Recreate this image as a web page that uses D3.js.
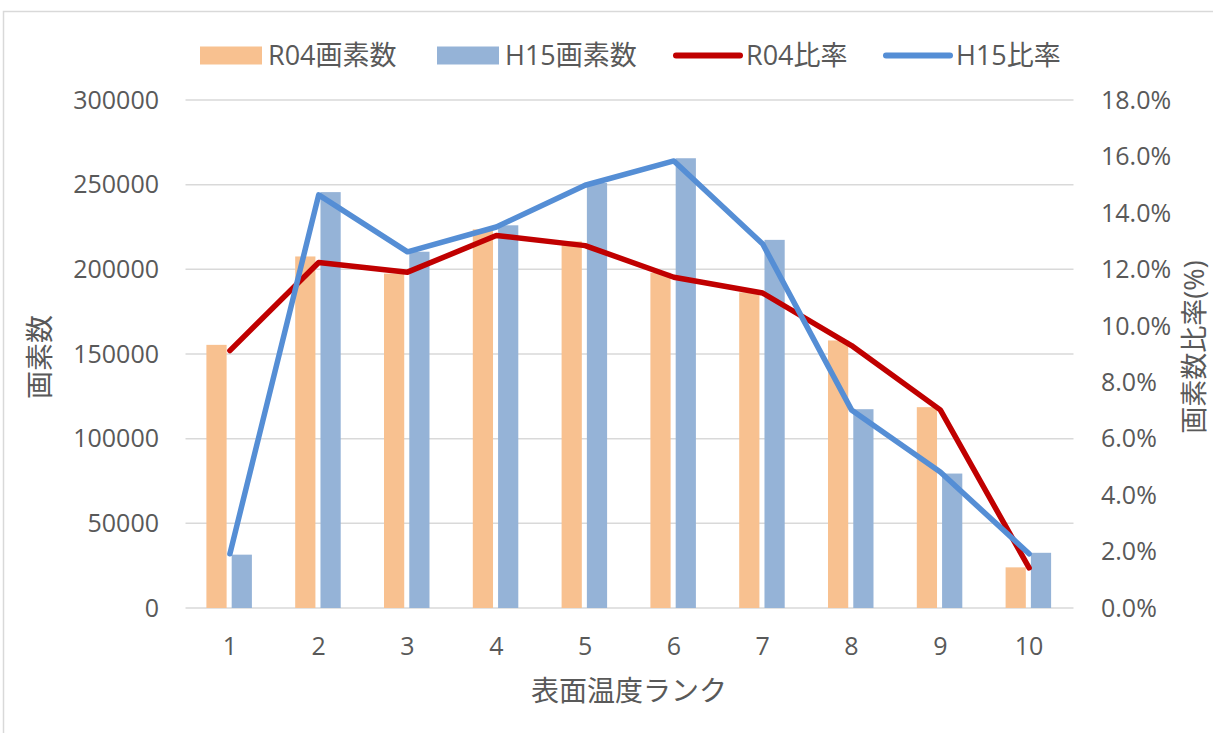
<!DOCTYPE html>
<html>
<head>
<meta charset="utf-8">
<script src="https://cdn.jsdelivr.net/npm/d3@7"></script>
<style>
  html, body { margin: 0; padding: 0; background: #ffffff; }
  svg { display: block; }
  text { font-family: "Open Sans", "Noto Sans CJK JP", sans-serif; fill: #595959; }
</style>
</head>
<body>
<svg id="chart" width="1213" height="733"></svg>
<script>
// Surface temperature rank categories
const categories = ["1", "2", "3", "4", "5", "6", "7", "8", "9", "10"];

// Pixel counts per rank
const r04Pixels = [155400, 207600, 197500, 223600, 216500, 198000, 186400, 158000, 118600, 24000];
const h15Pixels = [31500, 245600, 210400, 226000, 251000, 265600, 217400, 117400, 79400, 32600];

// Share of pixels per rank
const r04Ratio = [0.0912, 0.1224, 0.1190, 0.1320, 0.1284, 0.1172, 0.1116, 0.0930, 0.0702, 0.0142];
const h15Ratio = [0.0192, 0.1464, 0.1262, 0.1350, 0.1498, 0.1584, 0.1290, 0.0702, 0.0482, 0.0192];

// Axis ticks
const leftTicks = [0, 50000, 100000, 150000, 200000, 250000, 300000];
const rightTicks = [0, 0.02, 0.04, 0.06, 0.08, 0.10, 0.12, 0.14, 0.16, 0.18];

const barSeries = [
  { name: "R04画素数", values: r04Pixels, color: "#F8C190" },
  { name: "H15画素数", values: h15Pixels, color: "#95B3D7" }
];
const lineSeries = [
  { name: "R04比率", values: r04Ratio, color: "#C00000" },
  { name: "H15比率", values: h15Ratio, color: "#558ED5" }
];

const svg = d3.select("#chart");

// Chart area frame
svg.append("rect")
  .attr("x", 3.5).attr("y", 11.5)
  .attr("width", 1230).attr("height", 740)
  .attr("fill", "none").attr("stroke", "#D9D9D9").attr("stroke-width", 1.5);

const plot = { left: 185.5, right: 1073.5, top: 100, bottom: 608 };

const x = d3.scaleBand().domain(categories).range([plot.left, plot.right]);
const xSub = d3.scaleBand().domain(barSeries.map(s => s.name))
  .range([-23.5, 22]).paddingInner(0.2);
const y = d3.scaleLinear().domain([0, 300000]).range([plot.bottom, plot.top]);
const y2 = d3.scaleLinear().domain([0, 0.18]).range([plot.bottom, plot.top]);

// Horizontal gridlines
svg.append("g")
  .selectAll("line")
  .data(leftTicks)
  .join("line")
  .attr("x1", plot.left).attr("x2", plot.right)
  .attr("y1", d => y(d)).attr("y2", d => y(d))
  .attr("stroke", "#D9D9D9").attr("stroke-width", 1.5);

// Left axis labels
svg.append("g")
  .selectAll("text")
  .data(leftTicks)
  .join("text")
  .attr("x", 159).attr("y", d => y(d))
  .attr("dy", "0.35em")
  .attr("text-anchor", "end")
  .attr("font-size", 25)
  .text(d => d3.format("d")(d));

// Right axis labels
svg.append("g")
  .selectAll("text")
  .data(rightTicks)
  .join("text")
  .attr("x", 1101).attr("y", d => y2(d))
  .attr("dy", "0.35em")
  .attr("text-anchor", "start")
  .attr("font-size", 25)
  .text(d => d3.format(".1%")(d));

// Category labels
svg.append("g")
  .selectAll("text")
  .data(categories)
  .join("text")
  .attr("x", d => x(d) + x.bandwidth() / 2).attr("y", 646)
  .attr("dy", "0.35em")
  .attr("text-anchor", "middle")
  .attr("font-size", 25)
  .text(d => d);

// Clustered bars
barSeries.forEach(s => {
  svg.append("g")
    .selectAll("rect")
    .data(categories.map((c, i) => ({ c, v: s.values[i] })))
    .join("rect")
    .attr("x", d => x(d.c) + x.bandwidth() / 2 + xSub(s.name))
    .attr("width", xSub.bandwidth())
    .attr("y", d => y(d.v))
    .attr("height", d => y(0) - y(d.v))
    .attr("fill", s.color);
});

// Ratio lines on the secondary axis
const line = d3.line()
  .x(d => x(d.c) + x.bandwidth() / 2)
  .y(d => y2(d.v));

lineSeries.forEach(s => {
  svg.append("path")
    .datum(categories.map((c, i) => ({ c, v: s.values[i] })))
    .attr("d", line)
    .attr("fill", "none")
    .attr("stroke", s.color)
    .attr("stroke-width", 5.5)
    .attr("stroke-linejoin", "round")
    .attr("stroke-linecap", "round");
});

// Axis titles
svg.append("text")
  .attr("transform", "translate(40,357) rotate(-90)")
  .attr("dy", "0.35em")
  .attr("text-anchor", "middle")
  .attr("font-size", 28)
  .text("画素数");

svg.append("text")
  .attr("transform", "translate(1195,347) rotate(-90)")
  .attr("dy", "0.35em")
  .attr("text-anchor", "middle")
  .attr("font-size", 27)
  .text("画素数比率(%)");

svg.append("text")
  .attr("x", 629).attr("y", 691)
  .attr("dy", "0.35em")
  .attr("text-anchor", "middle")
  .attr("font-size", 28)
  .text("表面温度ランク");

// Legend
const legendY = 55.5;
const legendItems = [
  { s: barSeries[0], type: "bar", x: 200 },
  { s: barSeries[1], type: "bar", x: 437 },
  { s: lineSeries[0], type: "line", x: 676 },
  { s: lineSeries[1], type: "line", x: 886 }
];
const legend = svg.append("g");
legendItems.forEach(item => {
  if (item.type === "bar") {
    legend.append("rect")
      .attr("x", item.x).attr("y", legendY - 9)
      .attr("width", 62).attr("height", 18)
      .attr("fill", item.s.color);
  } else {
    legend.append("line")
      .attr("x1", item.x).attr("x2", item.x + 64)
      .attr("y1", legendY).attr("y2", legendY)
      .attr("stroke", item.s.color).attr("stroke-width", 6)
      .attr("stroke-linecap", "round");
  }
  legend.append("text")
    .attr("x", item.x + (item.type === "bar" ? 68 : 70))
    .attr("y", legendY)
    .attr("dy", "0.35em")
    .attr("font-size", 27)
    .text(item.s.name);
});
</script>
</body>
</html>
